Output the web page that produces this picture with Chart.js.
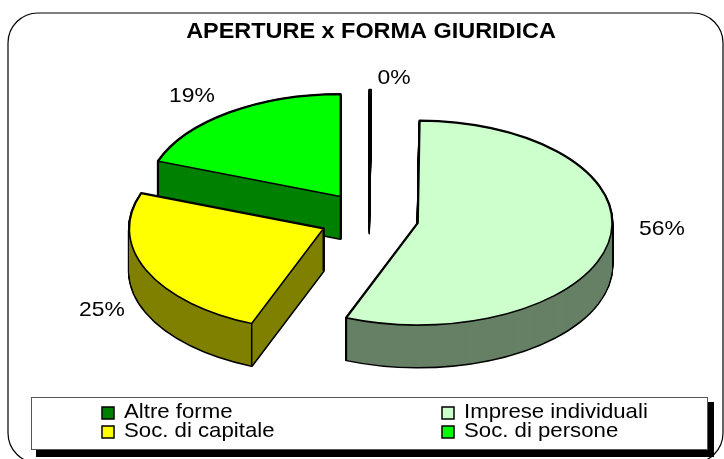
<!DOCTYPE html>
<html><head><meta charset="utf-8">
<style>html,body{margin:0;padding:0;background:#fff;overflow:hidden}canvas{display:block}</style>
<script src="https://cdn.jsdelivr.net/npm/chart.js@4"></script></head>
<body><canvas id="c" width="724" height="459"></canvas>
<script>
const chartTitle = 'APERTURE x FORMA GIURIDICA';
const categories = ['Altre forme', 'Imprese individuali', 'Soc. di capitale', 'Soc. di persone'];
const values = [0.15, 55.9, 24.6, 19.4];
const topColors = ['#008000', '#CCFFCC', '#FFFF00', '#00FF00'];
const sideColors = ['#004000', '#668066', '#808000', '#008000'];
const labelAnchors = [[394, 78], [662, 229], [102, 310], [192, 96]];
const legendSlots = [[102, 413], [442, 413], [102, 432], [442, 432]];

const TILT = 0.526, DEPTH = 42, EXPLODE = 50, RADIUS = 194;
const FONT = '"Liberation Sans", Arial, sans-serif';

function stretched(ctx, str, x, y, font, sx, align) {
  ctx.save();
  ctx.translate(x, y);
  ctx.scale(sx, 1);
  ctx.font = font;
  ctx.fillStyle = '#000';
  ctx.textAlign = align;
  ctx.textBaseline = 'middle';
  ctx.fillText(str, 0, 0);
  ctx.restore();
}
function place(ctx, arc, dy) {
  const mid = (arc.startAngle + arc.endAngle) / 2;
  ctx.translate(arc.x, arc.y + dy);
  ctx.scale(1, TILT);
  ctx.translate(Math.cos(mid) * EXPLODE, Math.sin(mid) * EXPLODE);
  ctx.translate(-arc.x, -arc.y);
}
function wedge(ctx, arc, dy) {
  ctx.save();
  place(ctx, arc, dy);
  ctx.beginPath();
  ctx.moveTo(arc.x, arc.y);
  ctx.arc(arc.x, arc.y, arc.outerRadius, arc.startAngle, arc.endAngle);
  ctx.closePath();
  ctx.restore();
}
function fillWith(ctx, arc, color, dy) {
  const saved = arc.options;
  arc.options = {offset: 0, spacing: 0, backgroundColor: color, borderColor: color, borderWidth: 0,
    borderAlign: 'center', borderRadius: 0, circular: true, borderDash: [], borderDashOffset: 0, borderJoinStyle: 'round'};
  ctx.save();
  place(ctx, arc, dy);
  arc.draw(ctx);
  ctx.restore();
  arc.options = saved;
}
function drop(ctx, arc, px, py) {
  ctx.beginPath();
  ctx.save(); place(ctx, arc, 0); ctx.moveTo(px, py); ctx.restore();
  ctx.save(); place(ctx, arc, DEPTH); ctx.lineTo(px, py); ctx.restore();
  ctx.stroke();
}
const pie3d = {
  id: 'pie3d',
  beforeDraw(chart) {
    const ctx = chart.ctx;
    ctx.save();
    ctx.fillStyle = '#fff';
    ctx.fillRect(0, 0, 724, 459);
    ctx.strokeStyle = '#000';
    ctx.lineWidth = 1.2;
    ctx.beginPath();
    ctx.roundRect(8, 13, 715, 450, 30);
    ctx.stroke();
    ctx.restore();
  },
  beforeDatasetDraw(chart, args) {
    const ctx = chart.ctx;
    const arcs = chart.getDatasetMeta(args.index).data.map((a, i) => ({a, i}));
    const centerY = o => Math.sin((o.a.startAngle + o.a.endAngle) / 2) * EXPLODE;
    arcs.sort((p, q) => centerY(p) - centerY(q));
    ctx.save();
    ctx.lineJoin = 'round';
    ctx.strokeStyle = '#000';
    for (const {a, i} of arcs) {
      const sliver = a.circumference < 0.05;
      ctx.lineWidth = sliver ? 1.5 : 3;
      for (let d = DEPTH; d >= 0; d--) { wedge(ctx, a, d); ctx.stroke(); }
      if (!sliver) for (let d = DEPTH; d >= 0; d--) fillWith(ctx, a, sideColors[i], d);
      ctx.lineWidth = 1.5;
      if (!sliver) {
        drop(ctx, a, a.x, a.y);
        drop(ctx, a, a.x + Math.cos(a.startAngle) * a.outerRadius, a.y + Math.sin(a.startAngle) * a.outerRadius);
        drop(ctx, a, a.x + Math.cos(a.endAngle) * a.outerRadius, a.y + Math.sin(a.endAngle) * a.outerRadius);
      }
      fillWith(ctx, a, topColors[i], 0);
      ctx.lineWidth = 1.6;
      wedge(ctx, a, 0);
      ctx.stroke();
    }
    ctx.restore();
    return false;
  },
  afterDraw(chart) {
    const ctx = chart.ctx;
    stretched(ctx, chartTitle, 371, 32, 'bold 22px ' + FONT, 1.065, 'center');
    const total = values.reduce((s, v) => s + v, 0);
    values.forEach((v, i) => {
      const [x, y] = labelAnchors[i];
      stretched(ctx, Math.round(v / total * 100) + '%', x, y, '21px ' + FONT, 1.09, 'center');
    });
    ctx.save();
    ctx.fillStyle = '#000';
    ctx.fillRect(36, 402, 678, 55);
    ctx.fillStyle = '#fff';
    ctx.strokeStyle = '#555';
    ctx.lineWidth = 1;
    ctx.fillRect(31, 397, 677, 53);
    ctx.strokeRect(31.5, 397.5, 676, 52);
    categories.forEach((name, i) => {
      const [x, y] = legendSlots[i];
      ctx.fillStyle = topColors[i];
      ctx.strokeStyle = '#000';
      ctx.lineWidth = 1.5;
      ctx.fillRect(x, y - 6, 12, 12);
      ctx.strokeRect(x, y - 6, 12, 12);
      stretched(ctx, name, x + 22, y - 1, '21px ' + FONT, 1.057, 'left');
    });
    ctx.restore();
  }
};
new Chart(document.getElementById('c'), {
  type: 'pie',
  data: { labels: categories, datasets: [{ data: values, backgroundColor: topColors, borderWidth: 0 }] },
  options: {
    responsive: false, animation: false, radius: RADIUS,
    layout: { padding: { left: 14, bottom: 23 } },
    plugins: { legend: { display: false }, title: { display: false }, tooltip: { enabled: false } }
  },
  plugins: [pie3d]
});
</script></body></html>
